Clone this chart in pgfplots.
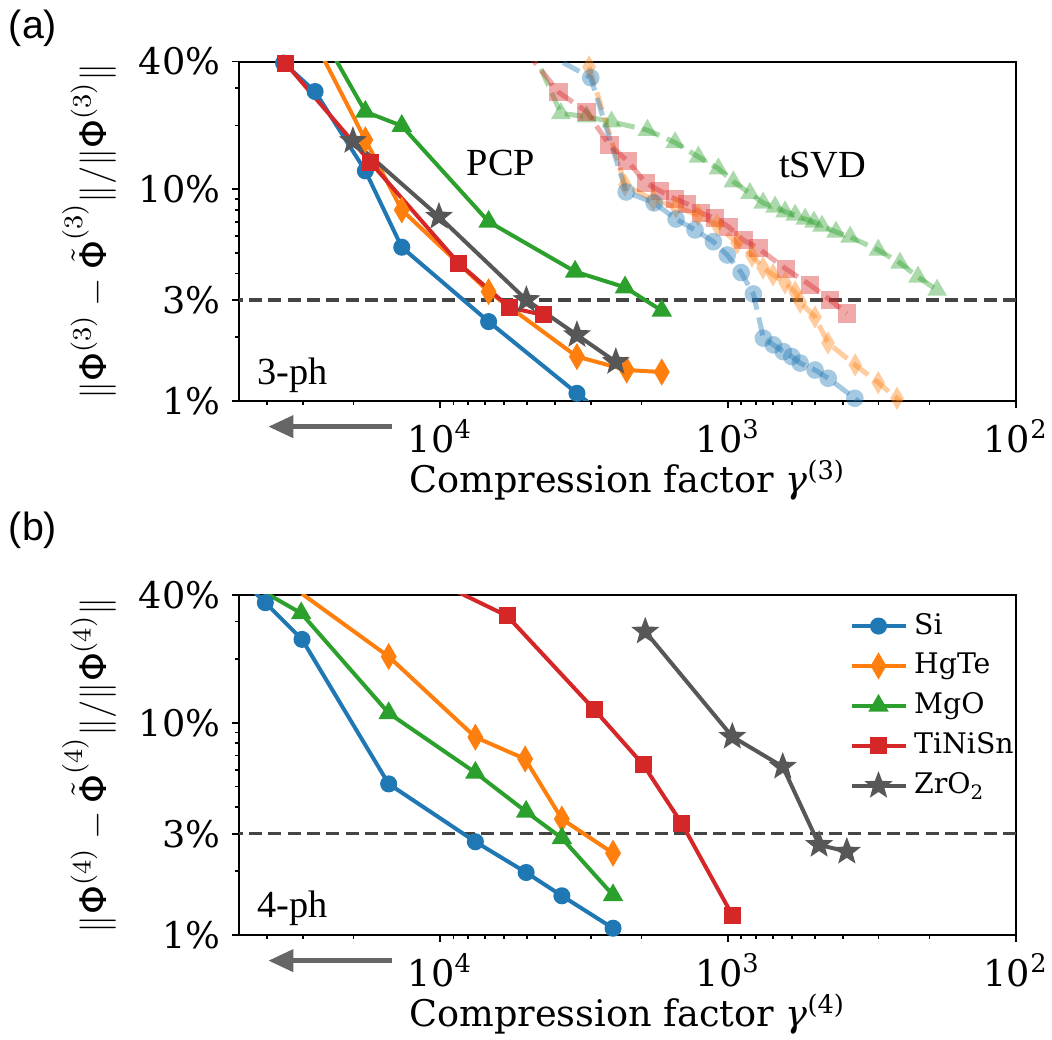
\documentclass[border=0pt]{standalone}
\usepackage{fontspec}
\setmainfont{DejaVu Serif}
\setsansfont{DejaVu Sans}
\newfontfamily\timesfont{Liberation Serif}
\newfontfamily\arialfont{Liberation Sans}
\usepackage{pgfplots}
\pgfplotsset{compat=1.18}
\usetikzlibrary{arrows.meta,plotmarks}
\definecolor{C0}{HTML}{1F77B4}
\definecolor{C1}{HTML}{FF7F0E}
\definecolor{C2}{HTML}{2CA02C}
\definecolor{C3}{HTML}{D62728}
\definecolor{C7}{HTML}{575757}
\definecolor{dgray}{HTML}{444444}
\definecolor{agray}{HTML}{666666}
\pgfdeclareplotmark{star5}{%
  \pgfpathmoveto{\pgfpointpolar{90}{\pgfplotmarksize}}%
  \pgfpathlineto{\pgfpointpolar{126}{0.42\pgfplotmarksize}}%
  \pgfpathlineto{\pgfpointpolar{162}{\pgfplotmarksize}}%
  \pgfpathlineto{\pgfpointpolar{198}{0.42\pgfplotmarksize}}%
  \pgfpathlineto{\pgfpointpolar{234}{\pgfplotmarksize}}%
  \pgfpathlineto{\pgfpointpolar{270}{0.42\pgfplotmarksize}}%
  \pgfpathlineto{\pgfpointpolar{306}{\pgfplotmarksize}}%
  \pgfpathlineto{\pgfpointpolar{342}{0.42\pgfplotmarksize}}%
  \pgfpathlineto{\pgfpointpolar{18}{\pgfplotmarksize}}%
  \pgfpathlineto{\pgfpointpolar{54}{0.42\pgfplotmarksize}}%
  \pgfpathclose
  \pgfusepathqfillstroke}
\pgfplotsset{
 myaxis/.style={
  scale only axis, width=233.1pt,
  x dir=reverse,
  xmin=100, xmax=50000, ymin=1, ymax=40,
  xtick={100,1000,10000},
  xticklabels={10\textsuperscript{2},10\textsuperscript{3},10\textsuperscript{4}},
  minor xtick={200,300,400,500,600,700,800,900,2000,3000,4000,5000,6000,7000,8000,9000,20000,30000,40000},
  ytick={1,3,10,40}, yticklabels={1\%,3\%,10\%,40\%},
  minor ytick={2,4,5,6,7,8,9,20,30},
  tick pos=left, tick align=outside,
  major tick length=2.1pt, minor tick length=1.2pt,
  every tick/.style={black, line width=0.5pt},
  axis line style={line width=0.6pt},
  tick label style={font=\fontsize{11}{13}\selectfont},
  label style={font=\fontsize{11}{13}\selectfont},
  xlabel style={at={(axis description cs:0.5,0)}, anchor=base, yshift=-27.6pt},
  ylabel style={at={(axis description cs:0,0.5)}, anchor=center, yshift=45pt},
  legend image code/.code={\draw[mark repeat=2,mark phase=2] plot coordinates {(-3pt,0pt) (5.1pt,0pt) (13.2pt,0pt)};},
 },
 pcp/.style={line width=1.2pt},
 tsvd/.style={line width=1.5pt, dash pattern=on 5.5pt off 2.4pt, draw opacity=0.4},
 tm/.style={mark options={solid, fill opacity=0.4, draw opacity=0, #1}},
 tm/.default={},
 sSi/.style={color=C0, mark=*, mark size=1.95pt, mark options={solid}},
 sHg/.style={color=C1, mark=diamond*, mark size=2.9pt, mark options={solid, xscale=0.78}},
 sMg/.style={color=C2, mark=triangle*, mark size=2.35pt, mark options={solid}},
 sTi/.style={color=C3, mark=square*, mark size=1.95pt, mark options={solid}},
 sZr/.style={color=C7, mark=star5, mark size=2.7pt, mark options={solid}},
}
\begin{document}
\begin{tikzpicture}
\useasboundingbox (0,0) rectangle (315.6pt,312pt);
% ---------------- panel (a)
\begin{axis}[xmode=log, ymode=log, myaxis, at={(71.7pt,191.7pt)}, anchor=south west, height=101.8pt,
  xlabel={Compression factor \textit{γ}\textsuperscript{(3)}},
  ylabel={$\|\mbox{\sffamily Φ}^{(3)}-\tilde{\mbox{\sffamily Φ}}^{(3)}\|/\|\mbox{\sffamily Φ}^{(3)}\|$}]
\addplot[forget plot, color=dgray, line width=1pt, dash pattern=on 3.9pt off 1.9pt] coordinates {(100,3) (50000,3)};
% tSVD
\addplot[tsvd, color=C2, mark=triangle*, mark size=3.4pt, tm] coordinates {
(4870,48.0) (3810,22.8) (3100,22.0) (2540,20.8) (1907,19.0) (1528,16.6) (1268,14.2) (1081,12.5) (959,10.85) (840,9.56) (756,8.61) (687,8.24) (634,7.83) (585,7.55) (540,7.23) (503,7.0) (472,6.70) (422,6.28) (377,5.95) (301,5.16) (253,4.48) (219,3.85) (188,3.34)};
\addplot[tsvd, color=C3, mark=square*, mark size=2.75pt, tm] coordinates {
(5070,45.4) (3880,28.7) (3100,23.2) (2585,16.2) (2237,13.6) (1928,10.66) (1723,9.81) (1528,8.99) (1387,8.51) (1241,7.72) (1110,7.29) (998,6.65) (885,5.75) (785,5.26) (630,4.20) (519,3.53) (443,3.0) (387,2.59)};
\addplot[tsvd, color=C1, mark=diamond*, mark size=3.5pt, tm={xscale=0.78}] coordinates {
(3400,48.0) (3040,37.8) (2280,10.47) (1820,8.89) (1517,8.24) (1271,7.56) (1092,6.78) (931,5.57) (826,4.84) (756,4.25) (698,3.94) (634,3.61) (585,3.27) (562,2.93) (499,2.49) (450,1.88) (362,1.48) (301,1.22) (259,1.03) (224,0.86)};
\addplot[tsvd, color=C0, mark=*, mark size=2.65pt, tm] coordinates {
(4500,45.4) (3000,33.6) (2260,9.70) (1807,8.61) (1517,7.23) (1303,6.42) (1125,5.65) (1007,4.89) (901,4.04) (817,3.20) (754,1.98) (696,1.84) (643,1.71) (601,1.62) (562,1.51) (499,1.40) (449,1.28) (363,1.03) (297,0.81)};
% PCP
\addplot[pcp, sSi] coordinates {
(47200,56.4) (35000,39.4) (27200,28.9) (18200,12.2) (13600,5.32) (6790,2.37) (3350,1.087) (1720,0.524)};
\addplot[pcp, sHg] coordinates {
(29800,62.9) (18200,17.1) (13600,7.98) (6790,3.28) (3350,1.62) (2250,1.40) (1700,1.37)};
\addplot[pcp, sMg] coordinates {
(27600,62.9) (18200,23.2) (13600,19.9) (6790,7.02) (3400,4.08) (2280,3.44) (1700,2.67)};
\addplot[pcp, sTi] coordinates {
(43500,56.4) (34500,39.4) (17400,13.3) (8630,4.47) (5740,2.76) (4380,2.55)};
\addplot[pcp, sZr] coordinates {
(20100,16.9) (10100,7.42) (5020,3.0) (3350,2.05) (2455,1.53)};
\end{axis}
% ---------------- panel (b)
\begin{axis}[xmode=log, ymode=log, myaxis, at={(71.7pt,31.5pt)}, anchor=south west, height=102pt,
  xlabel={Compression factor \textit{γ}\textsuperscript{(4)}},
  ylabel={$\|\mbox{\sffamily Φ}^{(4)}-\tilde{\mbox{\sffamily Φ}}^{(4)}\|/\|\mbox{\sffamily Φ}^{(4)}\|$},
  legend style={draw=none, fill=none, font=\fontsize{8.5}{10}\selectfont,
    at={(axis description cs:0.772,0.988)}, anchor=north west, row sep=0.2pt},
  legend cell align=left]
\addplot[forget plot, color=dgray, line width=1pt, dash pattern=on 3.9pt off 1.9pt] coordinates {(100,3) (50000,3)};
\addplot[pcp, sSi] coordinates {
(45700,43.2) (40500,36.8) (30200,24.7) (15100,5.15) (7550,2.75) (5030,1.97) (3780,1.53) (2510,1.076)};
\addlegendentry{Si}
\addplot[pcp, sHg] coordinates {
(30200,40.5) (15100,20.5) (7550,8.55) (5070,6.75) (3780,3.52) (2510,2.43)};
\addlegendentry{HgTe}
\addplot[pcp, sMg] coordinates {
(40500,41) (30400,32.8) (15100,11.1) (7550,5.82) (5030,3.81) (3780,2.86) (2510,1.54)};
\addlegendentry{MgO}
\addplot[pcp, sTi] coordinates {
(10600,47.1) (5860,31.9) (2910,11.5) (1970,6.33) (1450,3.36) (967,1.24)};
\addlegendentry{TiNiSn}
\addplot[pcp, sZr] coordinates {
(1940,26.9) (967,8.6) (646,6.21) (483,2.66) (387,2.47)};
\addlegendentry{ZrO\textsubscript{2}}
\end{axis}
% annotations
\node[font=\timesfont\fontsize{11.5}{13}\selectfont] at (150.3pt,263.1pt) {PCP};
\node[font=\timesfont\fontsize{11.5}{13}\selectfont] at (246.8pt,262.5pt) {tSVD};
\node[font=\timesfont\fontsize{11.5}{13}\selectfont, anchor=base west, inner sep=0pt] at (77pt,196.5pt) {3-ph};
\node[font=\timesfont\fontsize{11.5}{13}\selectfont, anchor=base west, inner sep=0pt] at (77pt,36.6pt) {4-ph};
\node[font=\arialfont\fontsize{11.8}{14}\selectfont] at (9.9pt,303.5pt) {(a)};
\node[font=\arialfont\fontsize{11.8}{14}\selectfont] at (9.9pt,153pt) {(b)};
\draw[line width=1.5pt, color=agray, -{Triangle[length=7.5pt,width=6.5pt]}] (117.5pt,184pt) -- (80.5pt,184pt);
\draw[line width=1.5pt, color=agray, -{Triangle[length=7.5pt,width=6.5pt]}] (117.5pt,23.8pt) -- (80.5pt,23.8pt);
\end{tikzpicture}
\end{document}
